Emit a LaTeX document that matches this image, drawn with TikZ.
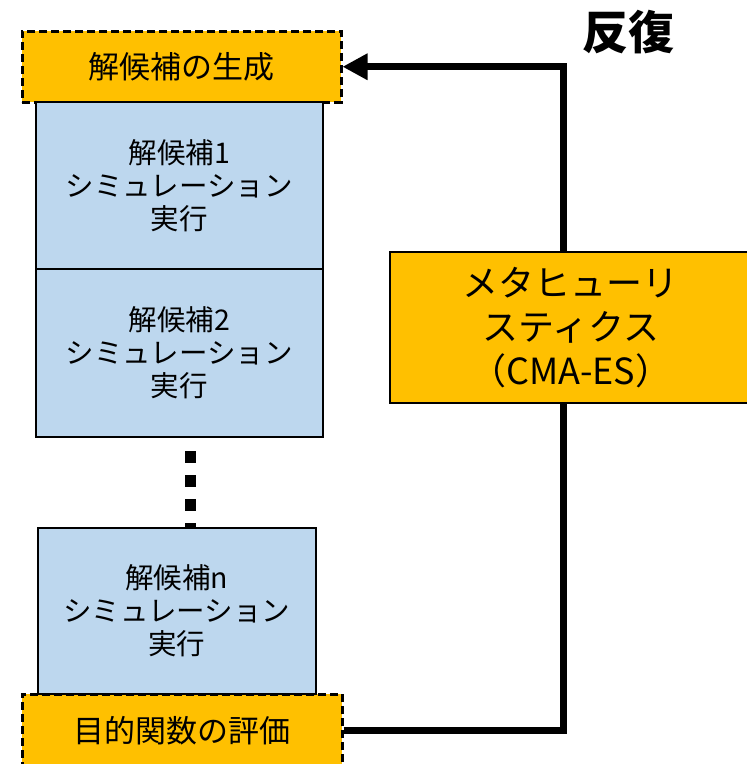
\documentclass[tikz,border=0pt]{standalone}
\usepackage{fontspec}
\setmainfont{Noto Sans CJK JP}
\usetikzlibrary{arrows.meta}
\definecolor{orng}{HTML}{FFC000}
\definecolor{lblue}{HTML}{BDD7EE}
\tikzset{
  orangebox/.style={draw=black, fill=orng, line width=2.5pt, dash pattern=on 8pt off 4pt, inner sep=0pt, anchor=north west, align=center, font=\fontsize{31}{36}\selectfont},
  bluebox/.style={draw=black, fill=lblue, line width=1.6pt, inner sep=0pt, anchor=north west, align=center, font=\fontsize{28.5}{33}\selectfont},
  metabox/.style={draw=black, fill=orng, line width=1.6pt, inner sep=0pt, anchor=north west, align=center, font=\fontsize{36}{44}\selectfont},
  conn/.style={draw=black, line width=7pt, miter limit=10},
  dotline/.style={draw=black, line width=11pt, dash pattern=on 12pt off 12pt},
}
\begin{document}
\begin{tikzpicture}[x=1pt,y=-1pt]
\useasboundingbox (0,0) rectangle (747,764);
\node[orangebox, minimum width=319pt, minimum height=71pt] (gen) at (21,30) {解候補の生成};
\node[orangebox, minimum width=320pt, minimum height=72pt] (eval) at (21,693) {目的関数の評価};
\node[bluebox, minimum width=287pt, minimum height=167pt] (b1) at (35,101) {解候補1\\シミュレーション\\実行};
\node[bluebox, minimum width=287pt, minimum height=168pt] (b2) at (35,268) {解候補2\\シミュレーション\\実行};
\coordinate (dotstart) at (190.5,451);
\node[bluebox, minimum width=278pt, minimum height=166pt] (bn) at (37,527) {解候補n\\シミュレーション\\実行};
\draw[dotline] (dotstart) -- (dotstart |- bn.north);
\node[metabox, minimum width=362pt, minimum height=151pt] (meta) at (389,251) {メタヒューリ\\スティクス\\（CMA-ES）};
\node[font=\fontsize{46}{50}\selectfont\bfseries, inner sep=0pt] (rep) at (628,32) {反復};
\coordinate (rt) at (563,0);
\draw[conn] (eval.east) -| (meta.south -| rt);
\draw[conn, -{Triangle[length=25pt,width=25pt]}] (meta.north -| rt) |- (gen.east);
\end{tikzpicture}
\end{document}
